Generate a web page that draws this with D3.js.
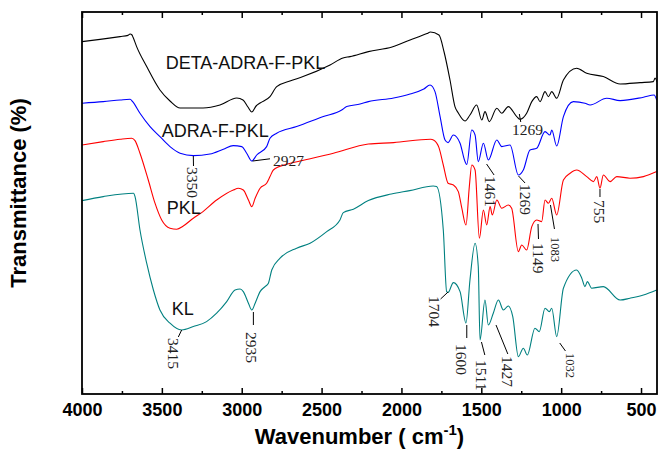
<!DOCTYPE html>
<html>
<head>
<meta charset="utf-8">
<script src="https://d3js.org/d3.v7.min.js"></script>
<style>
  body { margin: 0; background: #fff; }
  .x.axis text { font-family: Arial, "Liberation Sans", sans-serif; font-weight: bold; font-size: 18px; fill: #000; }
  .x.axis .domain { stroke: none; }
  .x.axis line { stroke: #000; stroke-width: 1.5px; }
  .peak { font-family: "Times New Roman", "Liberation Serif", serif; font-size: 15.5px; fill: #222; }
  .peak.small { font-size: 12.5px; }
  .sample { font-family: Arial, "Liberation Sans", sans-serif; font-size: 18px; fill: #111; }
  .leader { stroke: #000; stroke-width: 1px; fill: none; }
  .spectrum { fill: none; stroke-width: 1.1px; }
</style>
</head>
<body>
<svg id="p" width="658" height="451"></svg>
<script>
// wavenumber (cm-1), transmittance (a.u., curves offset)
const detaAdraFPKL = [[4000,176.2],[3887,177.3],[3762,178.7],[3712,179.3],[3699,180],[3687,179.5],[3681,178.5],[3658,173.7],[3595,163.7],[3512,152],[3449,146.5],[3386,143],[3242,143],[3136,144.5],[3031,148],[2992,147],[2961,143.5],[2937,141],[2910,144],[2885,145.5],[2823,148.7],[2781,153.7],[2698,156.5],[2616,158.7],[2447,164.5],[2366,168],[2322,168.7],[2207,171.2],[2059,173.5],[1946,177],[1840,180.2],[1818,181],[1765,179.5],[1733,171],[1696,157],[1665,143.7],[1644,140.5],[1602,136.5],[1571,139.5],[1529,144.5],[1497,137],[1477,141.2],[1450,136.2],[1403,142.9],[1372,140.4],[1331,143.7],[1278,138.7],[1258,137.4],[1216,140.4],[1184,146.2],[1153,148.7],[1132,146.2],[1101,151.2],[1080,148.7],[1059,151.2],[1028,147.9],[986,157],[903,162.9],[840,160.4],[736,158.7],[631,155],[506,155.7],[423,156.2],[412,158],[400,156]];

const adraFPKL = [[4000,145.4],[3867,146.2],[3762,147],[3699,147.4],[3683,146.2],[3637,140.4],[3574,133.7],[3512,128.7],[3449,123.7],[3386,120.4],[3303,119.2],[3199,120],[3115,122.4],[3053,124.2],[3000,123.7],[2969,120.4],[2937,116.5],[2906,119.5],[2844,123.7],[2823,127.9],[2781,130.4],[2656,133.7],[2489,138.7],[2374,142],[2343,143.7],[2259,145],[2207,146.2],[2049,148],[1946,150],[1860,152.5],[1821,154.5],[1790,151.2],[1758,138.7],[1727,127],[1708,125.7],[1675,129.5],[1633,125.4],[1602,116.2],[1591,114.8],[1560,132],[1539,129.5],[1519,116.2],[1487,125.4],[1456,117],[1403,127],[1372,123.7],[1320,124.5],[1268,109.5],[1237,112],[1195,122],[1153,122.9],[1101,131.2],[1070,129.5],[1059,132],[1028,124],[986,138.7],[924,146.2],[851,145.4],[819,144.5],[715,147.9],[631,146.7],[485,148.4],[418,149.5],[402,147]];

const pkl = [[4000,124.5],[3867,126.2],[3762,127.4],[3689,127.9],[3668,126.7],[3637,120.4],[3585,107],[3543,95.4],[3501,87],[3449,82.9],[3407,82.4],[3366,84],[3303,87.9],[3251,90.7],[3157,97],[3053,102],[3021,102.9],[2990,102],[2958,97],[2937,93.7],[2916,97.9],[2885,102.9],[2844,105.4],[2823,108.7],[2802,112],[2719,114.9],[2635,116.5],[2426,120.4],[2207,125],[2049,125.7],[1818,127.4],[1797,126.9],[1765,123.2],[1738,114.5],[1708,105.4],[1675,104.5],[1644,101.2],[1622,92.9],[1596,84.5],[1575,103.7],[1560,114.5],[1539,112],[1512,77.9],[1487,92],[1466,84.5],[1445,93.7],[1431,89.5],[1403,97],[1372,92.9],[1331,94.5],[1310,92.9],[1268,71.2],[1247,74.5],[1216,72],[1184,83.7],[1153,87],[1122,86.2],[1101,97],[1080,95.4],[1059,97.9],[1028,89.5],[986,107],[944,110.4],[903,112],[840,108.7],[798,106.2],[777,108.7],[757,102.9],[736,109.5],[694,106.2],[652,108.7],[569,107.9],[485,108.7],[402,111.2]];

const kl = [[4000,96.7],[3867,98.7],[3677,100.4],[3668,98.7],[3637,82],[3595,65.4],[3553,52],[3512,42],[3449,35.4],[3376,32],[3303,33.7],[3220,36.2],[3157,40.4],[3094,46.2],[3042,52],[3010,52.5],[2990,51.2],[2958,45.4],[2937,42],[2916,45.4],[2885,51.2],[2854,53.7],[2833,55.4],[2812,62],[2760,67.9],[2656,72.9],[2572,75.4],[2468,81.2],[2385,87],[2364,90.7],[2301,92.4],[2207,96.7],[2063,100],[1948,101.7],[1801,104],[1780,103.7],[1738,82],[1717,51.2],[1708,50.8],[1675,55.7],[1633,51.2],[1596,35.5],[1571,57],[1539,75.4],[1519,63.7],[1508,27],[1477,47],[1456,34.5],[1425,40.4],[1393,47],[1362,42],[1331,44],[1303,38.7],[1268,18.7],[1237,22.9],[1212,19.5],[1164,32.9],[1137,31.2],[1101,42.9],[1074,41.2],[1059,42.9],[1028,28.7],[986,52.9],[903,62],[871,57.9],[851,53.7],[836,56.2],[809,52.9],[736,53.7],[631,47],[569,47.9],[485,49.5],[402,52]];

const seriesNames = ["DETA-ADRA-F-PKL", "ADRA-F-PKL", "PKL", "KL"];
const seriesColors = ["#000000", "#0000ff", "#ff0000", "#008080"];
const majorTicks = [4000, 3500, 3000, 2500, 2000, 1500, 1000, 500];
const minorTicks = [3750, 3250, 2750, 2250, 1750, 1250, 750];

// sample name labels: [text, wavenumber at start, T at baseline]
const nameNotes = [["DETA-ADRA-F-PKL", 3476, 162.5], ["ADRA-F-PKL", 3501, 128.6], ["PKL", 3470, 90], ["KL", 3438, 39.5]];

// peak labels: text, leader from (wn,T) to (wn,T), text at (wn,T), rotated, small
const peakNotes = [
  ["3350", 3303, 119, 3302, 114, 3311, 113.5, true, false],
  ["2927", 2931, 116.5, 2823, 117.6, 2804, 114, false, false],
  ["1461", 1467, 115, 1420, 109.5, 1445, 109, true, false],
  ["1269", 1267, 109, 1226, 105.5, 1226, 105, true, false],
  ["1269", 1262, 140, 1253, 136, 1211, 129.5, false, false],
  ["755", 757, 102.5, 757, 98.5, 763, 97, true, false],
  ["1149", 1145, 85, 1142, 77.5, 1145, 75.5, true, false],
  ["1083", 1067, 94.5, 1042, 82.5, 1038, 78.5, true, true],
  ["1704", 1708, 51, 1755, 47.5, 1796, 49, true, false],
  ["1600", 1591, 34.5, 1591, 28, 1627, 25, true, false],
  ["1511", 1499, 26, 1478, 19.5, 1499, 17, true, false],
  ["1427", 1408, 34.5, 1334, 20, 1334, 19, true, false],
  ["1032", 1009, 25.5, 973, 21.5, 946, 20.5, true, true],
  ["3415", 3376, 32, 3397, 28.5, 3428, 28, true, false],
  ["2935", 2927, 41, 2927, 34.5, 2939, 31, true, false]
];

const svg = d3.select("svg#p");
const margin = { top: 12, right: 1, bottom: 57, left: 82 };
const width = +svg.attr("width");
const height = +svg.attr("height");
const chartWidth = width - margin.left - margin.right;
const chartHeight = height - margin.top - margin.bottom;

const x = d3.scaleLinear().domain([4000, 400]).range([0, chartWidth]);
const y = d3.scaleLinear().domain([0, 191]).range([chartHeight, 0]);

const chart = svg.append("g")
  .attr("transform", "translate(" + margin.left + "," + margin.top + ")");

chart.append("clipPath").attr("id", "clip")
  .append("rect").attr("width", chartWidth).attr("height", chartHeight);

const line = d3.line()
  .x(d => x(d[0]))
  .y(d => y(d[1]))
  .curve(d3.curveMonotoneX);

const allSeries = [detaAdraFPKL, adraFPKL, pkl, kl];
chart.append("g").attr("clip-path", "url(#clip)")
  .selectAll("path").data(allSeries).join("path")
  .attr("class", "spectrum")
  .attr("d", line)
  .style("stroke", (d, i) => seriesColors[i]);

// axes: ticks point inward
chart.append("g").attr("class", "x axis")
  .attr("transform", "translate(0," + chartHeight + ")")
  .call(d3.axisBottom(x).tickValues(majorTicks).tickSize(-6).tickPadding(9).tickFormat(d3.format("d")));
chart.append("g").attr("class", "x axis")
  .attr("transform", "translate(0," + chartHeight + ")")
  .call(d3.axisBottom(x).tickValues(minorTicks).tickSize(-3).tickFormat(""));
chart.append("g").attr("class", "x axis")
  .call(d3.axisTop(x).tickValues(majorTicks).tickSize(-6).tickFormat(""));
chart.append("g").attr("class", "x axis")
  .call(d3.axisTop(x).tickValues(minorTicks).tickSize(-3).tickFormat(""));

chart.append("rect")
  .attr("width", chartWidth).attr("height", chartHeight)
  .style("fill", "none").style("stroke", "#000").style("stroke-width", 1.8);

// sample names
chart.selectAll(".sample").data(nameNotes).join("text")
  .attr("class", "sample")
  .attr("x", d => x(d[1])).attr("y", d => y(d[2]))
  .text(d => d[0]);

// peak leaders and labels
chart.selectAll(".leader").data(peakNotes).join("line")
  .attr("class", "leader")
  .attr("x1", d => x(d[1])).attr("y1", d => y(d[2]))
  .attr("x2", d => x(d[3])).attr("y2", d => y(d[4]));

peakNotes.forEach(d => {
  const t = chart.append("text")
    .attr("class", d[8] ? "peak small" : "peak")
    .text(d[0]);
  if (d[7]) {
    t.attr("transform", "translate(" + x(d[5]) + "," + y(d[6]) + ") rotate(90)")
      .attr("text-anchor", "start")
      .attr("dominant-baseline", "central");
  } else {
    t.attr("x", x(d[5])).attr("y", y(d[6]))
      .attr("text-anchor", d[0] === "2927" ? "start" : "middle");
  }
});

// axis titles
const xTitle = svg.append("text")
  .attr("x", margin.left + chartWidth / 2 - 10)
  .attr("y", 444)
  .attr("text-anchor", "middle")
  .style("font-family", "Arial, 'Liberation Sans', sans-serif")
  .style("font-weight", "bold")
  .style("font-size", "22px");
xTitle.append("tspan").text("Wavenumber ( cm");
xTitle.append("tspan").attr("dy", -9).style("font-size", "15px").text("-1");
xTitle.append("tspan").attr("dy", 9).text(")");

svg.append("text")
  .attr("transform", "translate(26," + (margin.top + 181) + ") rotate(-90)")
  .attr("text-anchor", "middle")
  .style("font-family", "Arial, 'Liberation Sans', sans-serif")
  .style("font-weight", "bold")
  .style("font-size", "22px")
  .text("Transmittance (%)");
</script>
</body>
</html>
